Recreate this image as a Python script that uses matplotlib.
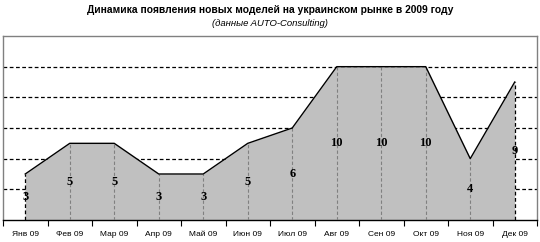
import matplotlib
matplotlib.use("Agg")
import matplotlib.pyplot as plt
import numpy as np

months = ["Янв 09", "Фев 09", "Мар 09", "Апр 09", "Май 09", "Июн 09",
          "Июл 09", "Авг 09", "Сен 09", "Окт 09", "Ноя 09", "Дек 09"]
new_models = [3, 5, 5, 3, 3, 5, 6, 10, 10, 10, 4, 9]

title = "Динамика появления новых моделей на украинском рынке в 2009 году"
subtitle = "(данные AUTO-Consulting)"

plt.rcParams['font.family'] = ['Liberation Sans', 'DejaVu Sans']

fig = plt.figure(figsize=(5.4, 2.42), dpi=100)
ax = fig.add_axes([3 / 540, 22 / 242, 534 / 540, 184 / 242])

x = np.arange(len(months))
ax.fill_between(x, new_models, 0, color="#c0c0c0", zorder=2, linewidth=0)
ax.plot(x, new_models, color="black", linewidth=1.0, zorder=4)

# drop lines
for i, v in enumerate(new_models):
    if i == 0 or i == len(months) - 1:
        ax.plot([i, i], [0, v], color="black", linestyle=(0, (3, 2)), linewidth=0.9, zorder=3)
    else:
        ax.plot([i, i], [0, v], color="#808080", linestyle=(0, (3, 2)), linewidth=0.8, zorder=3)
    ax.text(i, v / 2, str(v), ha="center", va="center", fontsize=9,
            fontweight="bold", family="Liberation Serif", zorder=5)

ax.set_xlim(-0.5, len(months) - 0.5)
ax.set_ylim(0, 12)
for g in [2, 4, 6, 8, 10]:
    ax.axhline(g, color="black", linestyle=(0, (3, 2)), linewidth=0.9, zorder=1)

ax.set_yticks([])
ax.set_xticks(x)
ax.set_xticklabels(months, fontsize=6)
ax.tick_params(axis="x", which="major", length=0, pad=8)
ax.set_xticks(np.arange(-0.5, len(months), 1.0), minor=True)
ax.tick_params(axis="x", which="minor", length=4, width=0.8, direction="out", color="black")

for side in ["top", "right", "left"]:
    ax.spines[side].set_color("#808080")
    ax.spines[side].set_linewidth(1.0)
ax.spines["bottom"].set_color("black")
ax.spines["bottom"].set_linewidth(1.0)

fig.text(0.5, 1 - 10 / 242, title, ha="center", va="center", fontsize=7.4, fontweight="bold")
fig.text(0.5, 1 - 24 / 242, subtitle, ha="center", va="center", fontsize=6.8, style="italic")

fig.savefig("out.png", dpi=100)
